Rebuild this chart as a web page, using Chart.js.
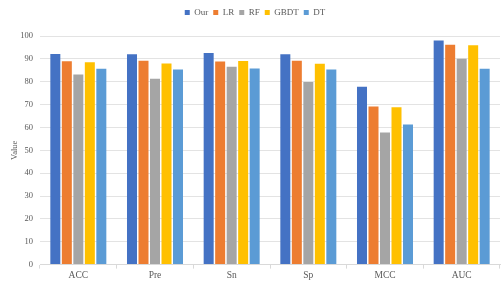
<!DOCTYPE html>
<html>
<head>
<meta charset="utf-8">
<script src="https://cdn.jsdelivr.net/npm/chart.js@4/dist/chart.umd.min.js"></script>
<style>
  html, body { margin: 0; padding: 0; background: #fff; }
  #wrap { width: 503px; height: 286px; position: relative; }
</style>
</head>
<body>
<div id="wrap"><canvas id="chart"></canvas></div>
<script>
// 指标类别
const metrics = ['ACC', 'Pre', 'Sn', 'Sp', 'MCC', 'AUC'];

// 各模型得分
const ourScores  = [92.1, 92.0, 92.6, 92.0, 77.8, 98.0];
const lrScores   = [88.9, 89.2, 88.8, 89.2, 69.2, 96.2];
const rfScores   = [83.2, 81.3, 86.6, 79.9, 57.8, 90.1];
const gbdtScores = [88.5, 88.0, 89.1, 87.9, 68.8, 95.9];
const dtScores   = [85.7, 85.4, 85.8, 85.4, 61.3, 85.7];

const yTicks = [0, 10, 20, 30, 40, 50, 60, 70, 80, 90, 100];

const FONT = "'Liberation Serif', 'DejaVu Serif', serif";
const TEXT = '#595959';

function series(label, data, color) {
    return {
        label: label,
        data: data,
        backgroundColor: color,
        borderWidth: 0,
        barPercentage: 0.87,
        categoryPercentage: 0.75
    };
}

// 图例与绘图区之间留出空隙
const legendGap = {
    id: 'legendGap',
    beforeInit(chart) {
        const fit = chart.legend.fit;
        chart.legend.fit = function () {
            fit.bind(chart.legend)();
            this.height += 9;
        };
    }
};

new Chart(document.getElementById('chart'), {
    type: 'bar',
    data: {
        labels: metrics,
        datasets: [
            series('Our', ourScores, '#4472C4'),
            series('LR', lrScores, '#ED7D31'),
            series('RF', rfScores, '#A5A5A5'),
            series('GBDT', gbdtScores, '#FFC000'),
            series('DT', dtScores, '#5B9BD5')
        ]
    },
    plugins: [legendGap],
    options: {
        responsive: true,
        maintainAspectRatio: false,
        animation: false,
        layout: { padding: { left: 10, right: 3, top: 3, bottom: 4 } },
        plugins: {
            legend: {
                position: 'top',
                labels: {
                    boxWidth: 5,
                    boxHeight: 5,
                    padding: 5,
                    color: TEXT,
                    font: { family: FONT, size: 9 }
                }
            },
            tooltip: { enabled: false }
        },
        scales: {
            x: {
                grid: {
                    drawOnChartArea: false,
                    drawTicks: true,
                    tickLength: 4,
                    color: '#d9d9d9'
                },
                border: { color: '#d9d9d9' },
                ticks: { color: TEXT, font: { family: FONT, size: 9.5 }, padding: 1 }
            },
            y: {
                min: 0,
                max: 100,
                afterBuildTicks: axis => { axis.ticks = yTicks.map(v => ({ value: v })); },
                afterFit: axis => { axis.width = 30; },
                grid: { color: '#e3e3e3', drawTicks: false },
                border: { display: false },
                title: {
                    display: true,
                    text: 'Value',
                    color: TEXT,
                    font: { family: FONT, size: 8.5 },
                    padding: { top: 0, bottom: 2 }
                },
                ticks: { color: TEXT, font: { family: FONT, size: 8.5 }, padding: 7 }
            }
        }
    }
});
</script>
</body>
</html>
